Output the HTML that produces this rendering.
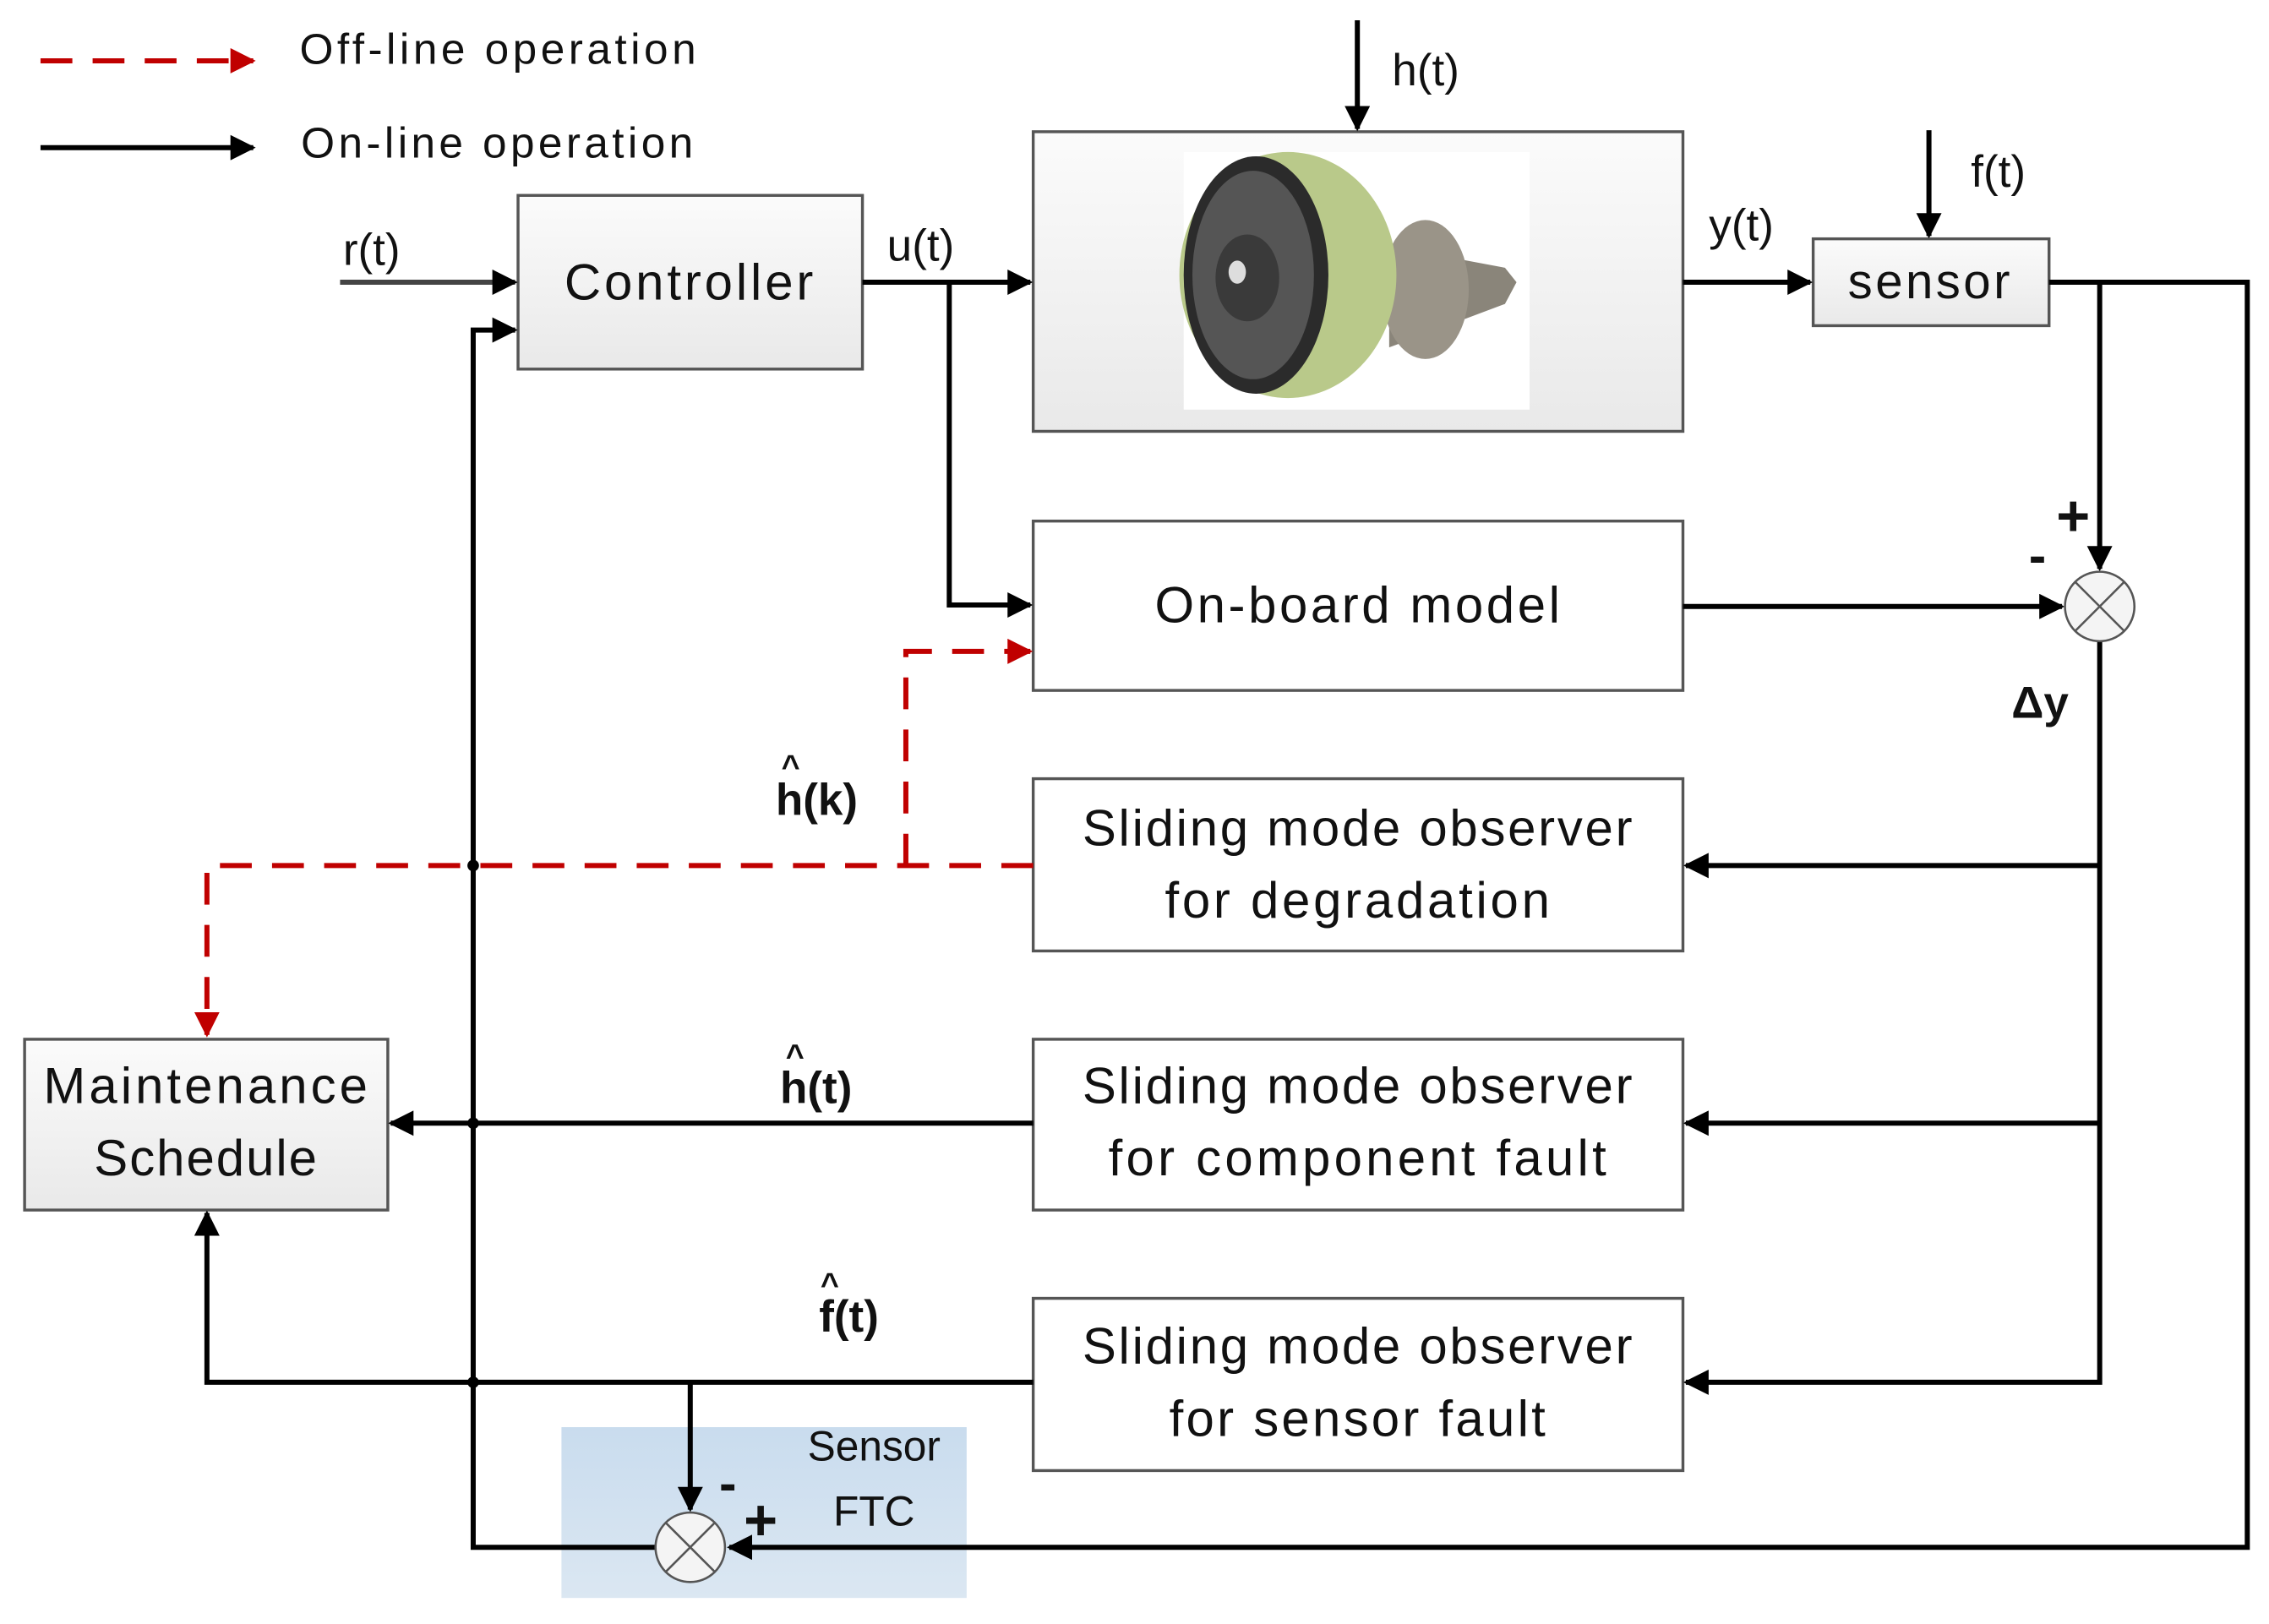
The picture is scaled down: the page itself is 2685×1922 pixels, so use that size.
<!DOCTYPE html>
<html><head><meta charset="utf-8"><style>html,body{margin:0;padding:0;background:#fff}svg{display:block}text{font-family:"Liberation Sans",sans-serif;fill:#111}</style></head>
<body>
<svg width="2685" height="1922" viewBox="0 0 1568 1122" preserveAspectRatio="none" xmlns="http://www.w3.org/2000/svg">
<defs>
<marker id="a" viewBox="0 0 10 10" refX="9" refY="5" markerWidth="5" markerHeight="5" orient="auto-start-reverse" markerUnits="strokeWidth"><path d="M0,0 L10,5 L0,10 z" fill="#000"/></marker>
<marker id="r" viewBox="0 0 10 10" refX="9" refY="5" markerWidth="5" markerHeight="5" orient="auto-start-reverse" markerUnits="strokeWidth"><path d="M0,0 L10,5 L0,10 z" fill="#c00000"/></marker>
<linearGradient id="g" x1="0" y1="0" x2="0" y2="1"><stop offset="0" stop-color="#fbfbfb"/><stop offset="1" stop-color="#e9e9e9"/></linearGradient>
<linearGradient id="b" x1="0" y1="0" x2="0" y2="1"><stop offset="0" stop-color="#c9dcee"/><stop offset="1" stop-color="#dbe7f2"/></linearGradient>
</defs>
<!-- legend -->
<line x1="28" y1="42" x2="175" y2="42" stroke="#c00000" stroke-width="3.5" stroke-dasharray="22,14" marker-end="url(#r)"/>
<text x="207" y="44" font-size="30" textLength="274">Off-line operation</text>
<line x1="28" y1="102" x2="175" y2="102" stroke="#000" stroke-width="3.5" marker-end="url(#a)"/>
<text x="208" y="109" font-size="30" textLength="271">On-line operation</text>
<!-- sensor FTC shade -->
<rect x="388" y="986" width="280" height="118" fill="url(#b)"/>
<text x="604" y="1009" font-size="29" text-anchor="middle">Sensor</text>
<text x="604" y="1054" font-size="29" text-anchor="middle">FTC</text>
<!-- boxes -->
<g stroke="#555" stroke-width="2">
<rect x="358" y="135" width="238" height="120" fill="url(#g)"/>
<rect x="714" y="91" width="449" height="207" fill="url(#g)"/>
<rect x="1253" y="165" width="163" height="60" fill="url(#g)"/>
<rect x="714" y="360" width="449" height="117" fill="#fff"/>
<rect x="714" y="538" width="449" height="119" fill="#fff"/>
<rect x="714" y="718" width="449" height="118" fill="#fff"/>
<rect x="714" y="897" width="449" height="119" fill="#fff"/>
<rect x="17" y="718" width="251" height="118" fill="url(#g)"/>
</g>
<!-- engine image -->
<rect x="818" y="105" width="239" height="178" fill="#fff"/>
<g>
<path d="M960,170 L1040,185 L1048,195 L1040,210 L960,240 z" fill="#8a857a"/>
<ellipse cx="985" cy="200" rx="30" ry="48" fill="#9a9488"/>
<ellipse cx="890" cy="190" rx="75" ry="85" fill="#b9c98a"/>
<ellipse cx="868" cy="190" rx="50" ry="82" fill="#2b2b2b"/>
<ellipse cx="866" cy="190" rx="42" ry="72" fill="#555"/>
<ellipse cx="862" cy="192" rx="22" ry="30" fill="#3a3a3a"/>
<ellipse cx="855" cy="188" rx="6" ry="8" fill="#ddd"/>
</g>
<!-- text -->
<text x="476" y="207" font-size="35" text-anchor="middle" textLength="172">Controller</text>
<text x="1333" y="206" font-size="34" text-anchor="middle" textLength="112">sensor</text>
<text x="938" y="430" font-size="35" text-anchor="middle" textLength="280">On-board model</text>
<text x="938" y="584" font-size="35" text-anchor="middle" textLength="380">Sliding mode observer</text>
<text x="938" y="634" font-size="35" text-anchor="middle" textLength="266">for degradation</text>
<text x="938" y="762" font-size="35" text-anchor="middle" textLength="380">Sliding mode observer</text>
<text x="938" y="812" font-size="35" text-anchor="middle" textLength="344">for component fault</text>
<text x="938" y="942" font-size="35" text-anchor="middle" textLength="380">Sliding mode observer</text>
<text x="938" y="992" font-size="35" text-anchor="middle" textLength="260">for sensor fault</text>
<text x="142" y="762" font-size="35" text-anchor="middle" textLength="224">Maintenance</text>
<text x="142" y="812" font-size="35" text-anchor="middle" textLength="154">Schedule</text>
<text x="237" y="183" font-size="31">r(t)</text>
<text x="613" y="180" font-size="31">u(t)</text>
<text x="962" y="59" font-size="31">h(t)</text>
<text x="1181" y="166" font-size="31">y(t)</text>
<text x="1362" y="129" font-size="31">f(t)</text>
<text x="1390" y="496" font-size="31" font-weight="bold">Δy</text>
<text x="536" y="563" font-size="31" font-weight="bold">h(k)</text><text x="540" y="537" font-size="22" font-weight="bold">^</text>
<text x="539" y="762" font-size="31" font-weight="bold">h(t)</text><text x="543" y="737" font-size="22" font-weight="bold">^</text>
<text x="566" y="920" font-size="31" font-weight="bold">f(t)</text><text x="567" y="895" font-size="22" font-weight="bold">^</text>
<text x="1421" y="370" font-size="40" font-weight="bold">+</text>
<text x="1402" y="396" font-size="36" font-weight="bold">-</text>
<text x="497" y="1037" font-size="36" font-weight="bold">-</text>
<text x="514" y="1064" font-size="40" font-weight="bold">+</text>
<!-- lines -->
<g stroke="#000" stroke-width="3.5" fill="none">
<line x1="235" y1="195" x2="356" y2="195" stroke="#444" marker-end="url(#a)"/>
<line x1="596" y1="195" x2="712" y2="195" marker-end="url(#a)"/>
<polyline points="656,195 656,418 712,418" marker-end="url(#a)"/>
<line x1="938" y1="14" x2="938" y2="89" marker-end="url(#a)"/>
<line x1="1163" y1="195" x2="1251" y2="195" marker-end="url(#a)"/>
<line x1="1333" y1="90" x2="1333" y2="163" marker-end="url(#a)"/>
<polyline points="1416,195 1553,195 1553,1069 504,1069" marker-end="url(#a)"/>
<polyline points="1451,195 1451,393" marker-end="url(#a)"/>
<line x1="1163" y1="419" x2="1425" y2="419" marker-end="url(#a)"/>
<polyline points="1451,443 1451,955 1165,955" marker-end="url(#a)"/>
<line x1="1451" y1="598" x2="1165" y2="598" marker-end="url(#a)"/>
<line x1="1451" y1="776" x2="1165" y2="776" marker-end="url(#a)"/>
<line x1="714" y1="776" x2="270" y2="776" marker-end="url(#a)"/>
<polyline points="714,955 143,955 143,838" marker-end="url(#a)"/>
<line x1="477" y1="955" x2="477" y2="1043" marker-end="url(#a)"/>
<polyline points="453,1069 327,1069 327,228 356,228" marker-end="url(#a)"/>
</g>
<g fill="#000"><circle cx="327" cy="598" r="4"/><circle cx="327" cy="776" r="4"/><circle cx="327" cy="955" r="4"/></g>
<!-- red dashed -->
<g stroke="#c00000" stroke-width="3.5" fill="none" stroke-dasharray="22,14">
<polyline points="714,598 143,598 143,715" marker-end="url(#r)"/>
<polyline points="626,598 626,450 712,450" marker-end="url(#r)"/>
</g>
<!-- summing junctions -->
<g stroke="#555" stroke-width="1.5">
<circle cx="1451" cy="419" r="24" fill="#f4f4f4"/>
<line x1="1434" y1="402" x2="1468" y2="436"/><line x1="1468" y1="402" x2="1434" y2="436"/>
<circle cx="477" cy="1069" r="24" fill="#f4f4f4"/>
<line x1="460" y1="1052" x2="494" y2="1086"/><line x1="494" y1="1052" x2="460" y2="1086"/>
</g>
</svg>
</body></html>
